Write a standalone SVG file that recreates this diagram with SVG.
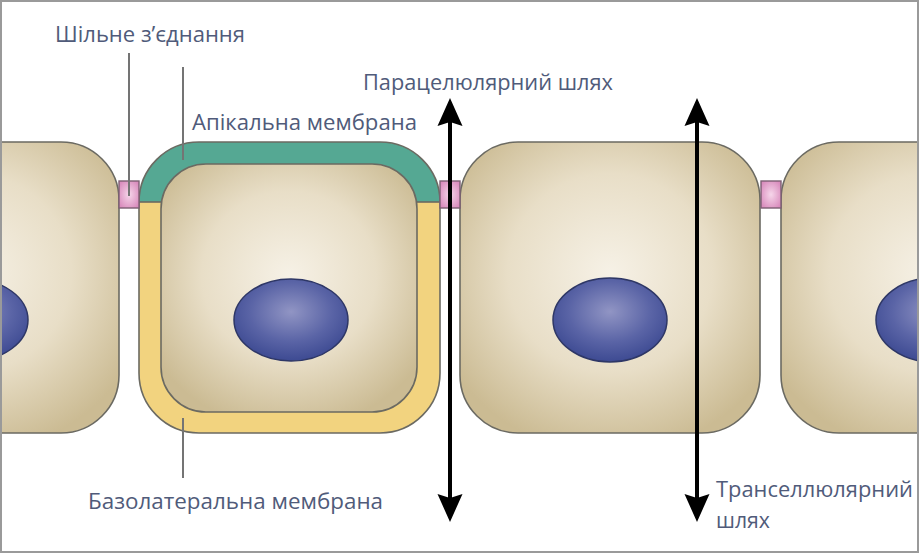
<svg xmlns="http://www.w3.org/2000/svg" width="919" height="554" viewBox="0 0 919 554">
  <defs>
    <radialGradient id="cellGrad" cx="50%" cy="45%" r="62%">
      <stop offset="0" stop-color="#f6f1e6"/>
      <stop offset="0.55" stop-color="#e8dec7"/>
      <stop offset="1" stop-color="#cbbb93"/>
    </radialGradient>
    <radialGradient id="nucGrad" cx="50%" cy="40%" r="60%">
      <stop offset="0" stop-color="#9195c4"/>
      <stop offset="0.6" stop-color="#5a64a6"/>
      <stop offset="1" stop-color="#3d4a92"/>
    </radialGradient>
    <radialGradient id="tjGrad" cx="50%" cy="50%" r="60%">
      <stop offset="0" stop-color="#f6d6ea"/>
      <stop offset="1" stop-color="#d98cbd"/>
    </radialGradient>
    <clipPath id="apicalClip">
      <rect x="130" y="130" width="320" height="72"/>
    </clipPath>
    <clipPath id="frameClip">
      <rect x="2" y="2" width="915" height="549"/>
    </clipPath>
    <marker id="arrow" viewBox="0 -13 28 26" markerUnits="userSpaceOnUse" markerWidth="28" markerHeight="26" refX="18" refY="0" orient="auto-start-reverse">
      <path d="M0,-12.5 L28,0 L0,12.5 L4,0 Z" fill="#000"/>
    </marker>
    <style>
      .cell { fill: url(#cellGrad); stroke: #6b6a62; stroke-width: 1.6; }
      .nuc { fill: url(#nucGrad); stroke: #2e3766; stroke-width: 1.5; }
      .tj { fill: url(#tjGrad); stroke: #7d5f73; stroke-width: 1.4; }
      .mem { stroke: #6b6a62; stroke-width: 1.6; }
      .lead { stroke: #747474; stroke-width: 2; fill: none; }
      .path-arrow { stroke: #000; stroke-width: 4; fill: none; }
      .label { font-family: "Open Sans", "Liberation Sans", sans-serif; font-size: 22.5px; fill: #505b7a; }
    </style>
  </defs>

  <rect x="0" y="0" width="919" height="554" fill="#ffffff"/>

  <g clip-path="url(#frameClip)">
    <g id="cell-left">
      <rect class="cell" x="-181" y="142" width="300" height="291" rx="58" ry="58"/>
      <ellipse class="nuc" cx="-29" cy="320" rx="57" ry="41"/>
    </g>

    <g id="cell-polar">
      <rect x="139" y="142" width="301" height="291" rx="60" ry="60" fill="#f2d37f"/>
      <rect x="139" y="142" width="301" height="291" rx="60" ry="60" fill="#55a893" clip-path="url(#apicalClip)"/>
      <rect x="139" y="142" width="301" height="291" rx="60" ry="60" fill="none" class="mem"/>
      <line class="mem" x1="139" y1="202" x2="162" y2="202"/>
      <line class="mem" x1="417" y1="202" x2="440" y2="202"/>
      <rect class="cell" x="161" y="164" width="256" height="248" rx="45" ry="45"/>
      <ellipse class="nuc" cx="291" cy="320" rx="57" ry="41"/>
    </g>

    <g id="cell-mid">
      <rect class="cell" x="460" y="142" width="300" height="291" rx="58" ry="58"/>
      <ellipse class="nuc" cx="610" cy="320" rx="57" ry="42"/>
    </g>

    <g id="cell-right">
      <rect class="cell" x="781" y="142" width="300" height="291" rx="58" ry="58"/>
      <ellipse class="nuc" cx="933" cy="320" rx="57" ry="42"/>
    </g>

    <g id="tight-junctions">
      <rect class="tj" x="119" y="181" width="20" height="27"/>
      <rect class="tj" x="440" y="181" width="20" height="27"/>
      <rect class="tj" x="761" y="181" width="20" height="27"/>
    </g>
  </g>

  <g id="connectors">
    <line class="lead" x1="129" y1="53" x2="129" y2="196"/>
    <line class="lead" x1="183" y1="67" x2="183" y2="160"/>
    <line class="lead" x1="183" y1="418" x2="183" y2="478"/>
    <line class="path-arrow" x1="450" y1="108" x2="450" y2="512" marker-start="url(#arrow)" marker-end="url(#arrow)"/>
    <line class="path-arrow" x1="697" y1="108" x2="697" y2="512" marker-start="url(#arrow)" marker-end="url(#arrow)"/>
  </g>

  <g id="labels">
    <text class="label" x="55" y="42" textLength="190" lengthAdjust="spacingAndGlyphs">Шільне з’єднання</text>
    <text class="label" x="192" y="130" textLength="225" lengthAdjust="spacingAndGlyphs">Апікальна мембрана</text>
    <text class="label" x="363" y="90" textLength="250" lengthAdjust="spacingAndGlyphs">Парацелюлярний шлях</text>
    <text class="label" x="88" y="509" textLength="295" lengthAdjust="spacingAndGlyphs">Базолатеральна мембрана</text>
    <text class="label" x="716" y="497" textLength="197" lengthAdjust="spacingAndGlyphs">Транселлюлярний</text>
    <text class="label" x="716" y="528" textLength="54" lengthAdjust="spacingAndGlyphs">шлях</text>
  </g>

  <rect id="frame" x="1" y="1" width="917" height="551" fill="none" stroke="#9a9a9a" stroke-width="2"/>
</svg>
